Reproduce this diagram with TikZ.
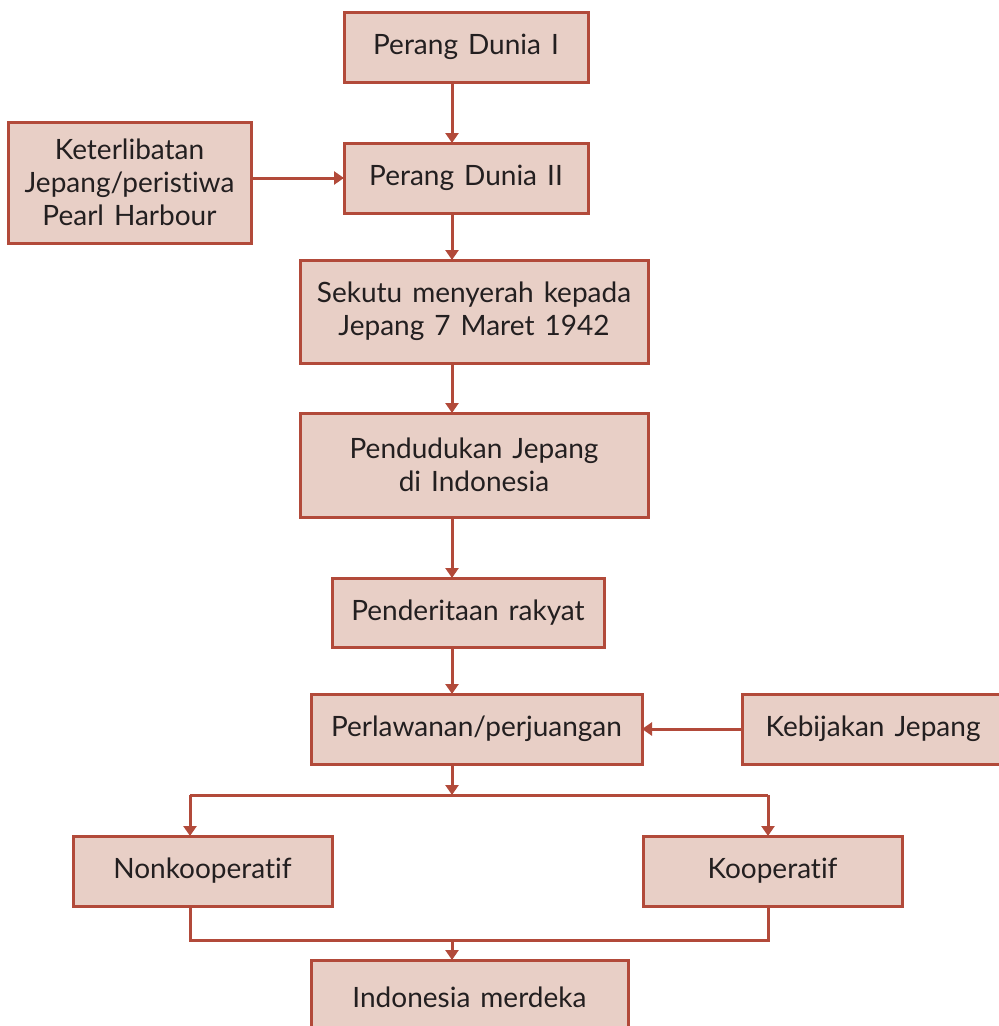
\documentclass[tikz,border=0pt]{standalone}
\usepackage{fontspec}
\setmainfont{Lato}[Ligatures=NoCommon,WordSpace=1.4]
\usetikzlibrary{arrows.meta}
\definecolor{boxline}{RGB}{178,74,58}
\definecolor{boxfill}{RGB}{232,207,198}
\definecolor{boxtext}{RGB}{35,31,32}

\begin{document}
\begin{tikzpicture}[x=1pt,y=-1pt]
\tikzset{
  box/.style={draw=boxline,fill=boxfill,line width=3pt,inner sep=0pt,outer sep=0pt,
    align=center,text=boxtext,font=\fontsize{28}{33}\selectfont},
  arr/.style={draw=boxline,line width=3pt,-{Triangle[length=10pt,width=13pt]}},
  lin/.style={draw=boxline,line width=3pt}
}
\useasboundingbox (0,0) rectangle (999,1026);
% boxes
\node [box,minimum width=244,minimum height=70] (pd1) at (466,47) {Perang Dunia I};
\node [box,minimum width=244,minimum height=70] (pd2) at (466,178) {Perang Dunia II};
\node [box,minimum width=243,minimum height=121] (ket) at (129.5,182.5) {Keterlibatan\\Jepang/peristiwa\\Pearl Harbour};
\node [box,minimum width=348,minimum height=103] (sek) at (474,311.5) {Sekutu menyerah kepada\\Jepang 7 Maret 1942};
\node [box,minimum width=348,minimum height=104] (pen) at (474,465) {Pendudukan Jepang\\di Indonesia};
\node [box,minimum width=272,minimum height=69] (pdr) at (468,612.5) {Penderitaan rakyat};
\node [box,minimum width=331,minimum height=70] (perl) at (476.5,729) {Perlawanan/perjuangan};
\node [box,minimum width=262,minimum height=70] (keb) at (873,729) {Kebijakan Jepang};
\node [box,minimum width=259,minimum height=70] (nonk) at (202.5,871) {Nonkooperatif};
\node [box,minimum width=259,minimum height=70] (koop) at (772.5,871) {Kooperatif};
\node [box,minimum width=317,minimum height=74] (merd) at (469.5,997) {Indonesia merdeka};
% helper points
\coordinate (trunk) at (452,0);
\coordinate (lft) at (190,0);
\coordinate (rgt) at (768,0);
\coordinate (split) at (452,795);
\coordinate (join) at (452,940);
% connectors
\draw [arr] (pd1.south -| trunk) -- (pd2.north -| trunk);
\draw [arr] (ket.east |- pd2) -- (pd2.west);
\draw [arr] (pd2.south -| trunk) -- (sek.north -| trunk);
\draw [arr] (sek.south -| trunk) -- (pen.north -| trunk);
\draw [arr] (pen.south -| trunk) -- (pdr.north -| trunk);
\draw [arr] (pdr.south -| trunk) -- (perl.north -| trunk);
\draw [arr] (keb.west) -- (perl.east);
\draw [lin] (split -| lft) -- (split -| rgt);
\draw [arr] (perl.south -| trunk) -- (split);
\draw [arr] (split -| lft) -- (nonk.north -| lft);
\draw [arr] (split -| rgt) -- (koop.north -| rgt);
\draw [lin] (nonk.south -| lft) -- (join -| lft) -- (join -| rgt) -- (koop.south -| rgt);
\draw [arr] (join) -- (merd.north -| trunk);
\end{tikzpicture}
\end{document}
